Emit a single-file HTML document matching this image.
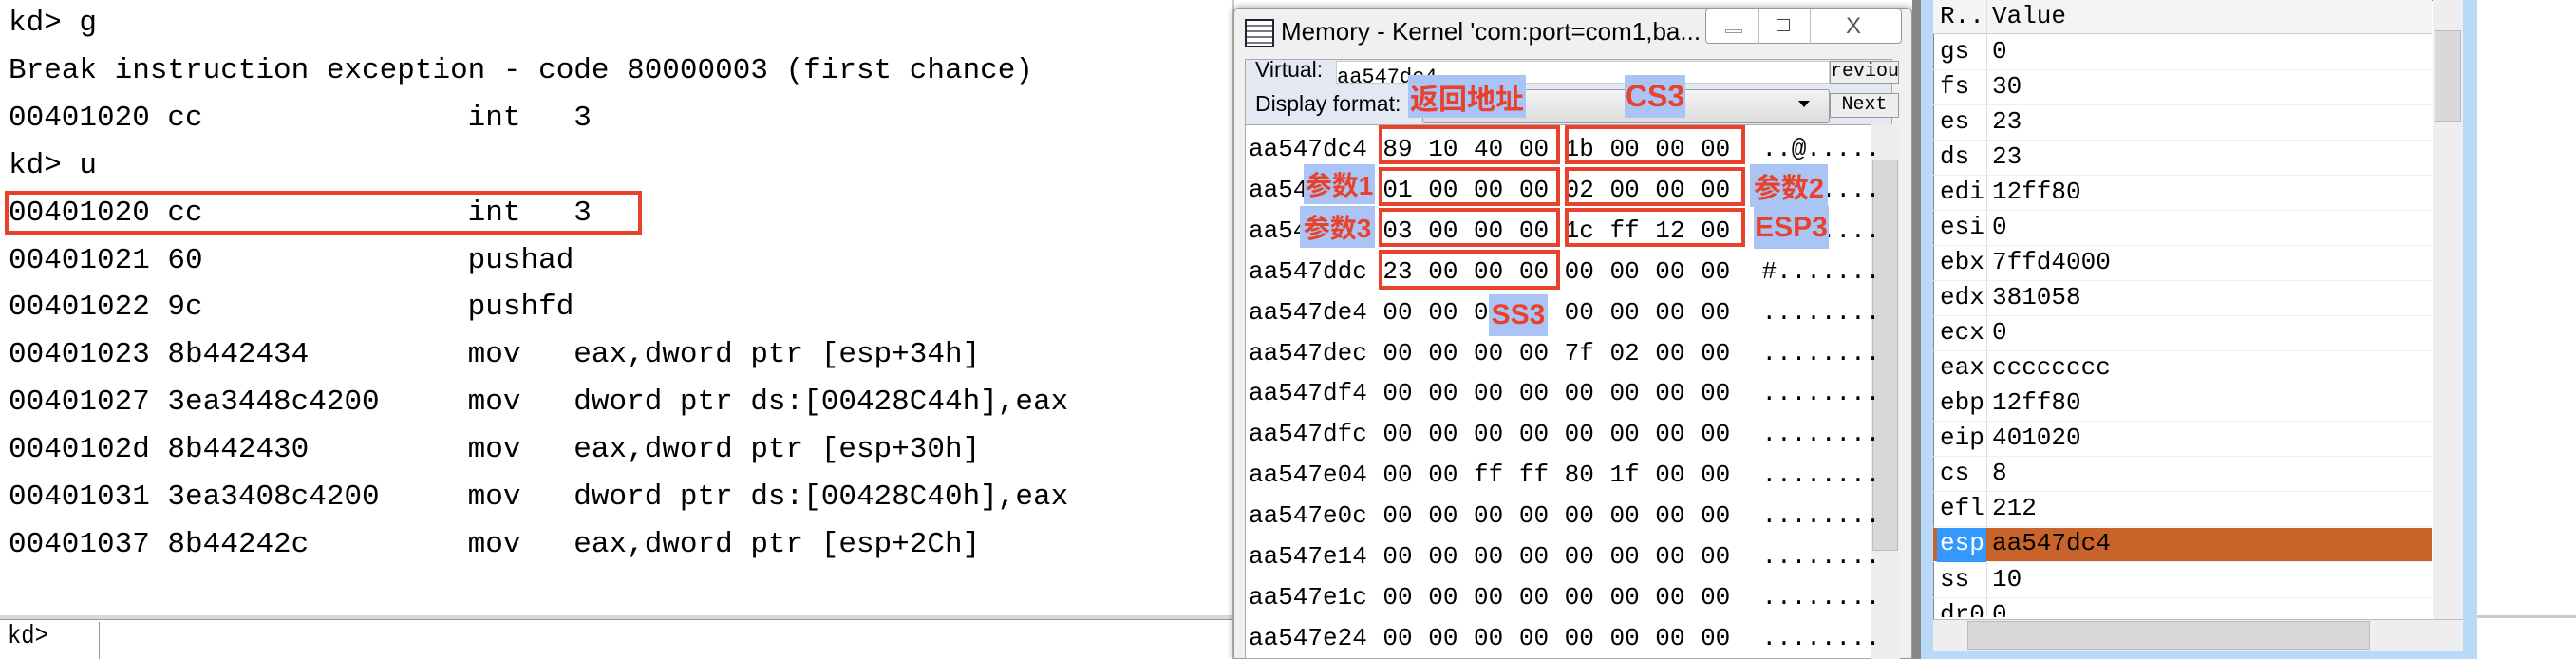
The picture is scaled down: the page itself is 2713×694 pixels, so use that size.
<!DOCTYPE html>
<html><head><meta charset="utf-8"><style>
*{margin:0;padding:0;box-sizing:border-box}
body{width:2713px;height:694px;position:relative;overflow:hidden;background:#fff;font-family:"Liberation Mono","Noto Sans CJK SC",monospace}
.a{position:absolute;white-space:pre}
.kd{font-size:31px;color:#000;line-height:49.9px}
.hx{font-size:26px;color:#000;font-family:"Liberation Mono",monospace}
.box{position:absolute;border:4px solid #e8412c}
.lbl{position:absolute;background:#a9c4f5;color:#e8412c;font-weight:bold;font-family:"Liberation Sans","Noto Sans CJK SC",sans-serif;font-size:28px;display:flex;align-items:center;justify-content:center;white-space:nowrap;overflow:visible}
.rg{position:absolute;font-size:26px;left:0;width:100%;height:37px;border-bottom:1px solid #eee}
</style></head><body>
<!-- left pane -->
<div class="a kd" style="left:9px;top:0">kd&gt; g
Break instruction exception - code 80000003 (first chance)
00401020 cc               int   3
kd&gt; u
00401020 cc               int   3
00401021 60               pushad
00401022 9c               pushfd
00401023 8b442434         mov   eax,dword ptr [esp+34h]
00401027 3ea3448c4200     mov   dword ptr ds:[00428C44h],eax
0040102d 8b442430         mov   eax,dword ptr [esp+30h]
00401031 3ea3408c4200     mov   dword ptr ds:[00428C40h],eax
00401037 8b44242c         mov   eax,dword ptr [esp+2Ch]</div>
<div class="box" style="left:5px;top:201px;width:671px;height:46px"></div>
<div class="a" style="left:0;top:648px;width:1300px;height:4px;background:#d8d8d8"></div>
<div class="a" style="left:0;top:652px;width:1300px;height:42px;background:#fff;border-top:1px solid #999"></div>
<div class="a" style="left:104px;top:655px;width:1px;height:39px;background:#999"></div>
<div class="a" style="left:8px;top:655px;font-size:28px;transform:scaleX(0.85);transform-origin:left">kd&gt;</div>
<div class="a" style="left:1297px;top:0;width:3px;height:694px;background:#ccc"></div>
<!-- memory window -->
<div class="a" style="left:1299px;top:8px;width:715px;height:686px;background:#f0f0f0;border:1px solid #999;border-radius:6px 6px 0 0;box-shadow:0 0 8px rgba(0,0,0,.4)"></div>
<div class="a" style="left:1311px;top:20px;width:31px;height:30px;border:2px solid #223;background:repeating-linear-gradient(#fff 0 4px,#778 4px 6px)"></div>
<div class="a" style="left:1349px;top:18px;font-family:'Liberation Sans',sans-serif;font-size:26px">Memory - Kernel 'com:port=com1,ba...</div>
<div class="a" style="left:1796px;top:9px;width:207px;height:37px;border:1px solid #999;border-radius:4px;background:#fff"></div>
<div class="a" style="left:1852px;top:9px;width:1px;height:37px;background:#bbb"></div>
<div class="a" style="left:1906px;top:9px;width:1px;height:37px;background:#bbb"></div>
<div class="a" style="left:1817px;top:31px;width:18px;height:4px;border:1px solid #999"></div>
<div class="a" style="left:1871px;top:20px;width:14px;height:13px;border:1px solid #444"></div>
<div class="a" style="left:1944px;top:14px;font-size:24px;color:#555;font-family:'Liberation Sans',sans-serif">X</div>
<div class="a" style="left:1311px;top:62px;width:682px;height:70px;background:#e4e8f2;border:1px solid #aaa"></div>
<div class="a" style="left:1322px;top:60px;font-family:'Liberation Sans',sans-serif;font-size:23px">Virtual:</div>
<div class="a" style="left:1407px;top:64px;width:520px;height:24px;background:#fff;border:1px solid #ccc;overflow:hidden;font-size:22px;line-height:34px">aa547dc4</div>
<div class="a" style="left:1322px;top:96px;font-family:'Liberation Sans',sans-serif;font-size:23px">Display format:</div>
<div class="a" style="left:1498px;top:94px;width:429px;height:36px;background:linear-gradient(#f4f4f4,#dcdcdc);border:1px solid #999;border-radius:3px"></div>
<div class="a" style="left:1894px;top:106px;width:0;height:0;border-left:6px solid transparent;border-right:6px solid transparent;border-top:7px solid #000"></div>
<div class="a" style="left:1927px;top:64px;width:73px;height:24px;border:1px solid #999;background:#eee;font-size:20px;overflow:hidden;line-height:22px">reviou</div>
<div class="a" style="left:1927px;top:98px;width:73px;height:26px;border:1px solid #999;background:#eee;font-size:20px;text-align:center;line-height:24px">Next</div>
<div class="a" style="left:1311px;top:131px;width:690px;height:563px;background:#fff;border:1px solid #aaa"></div>
<div class="a" style="left:1970px;top:131px;width:31px;height:563px;background:#eee"></div>
<div class="a" style="left:1972px;top:168px;width:27px;height:412px;background:#d8d8d8;border:1px solid #bbb"></div>
<div class="a hx" style="left:1315px;top:136px;line-height:42.9px;word-spacing:1px">aa547dc4 89 10 40 00 1b 00 00 00  ..@.....
aa547dcc 01 00 00 00 02 00 00 00  ........
aa547dd4 03 00 00 00 1c ff 12 00  ........
aa547ddc 23 00 00 00 00 00 00 00  #.......
aa547de4 00 00 00 00 00 00 00 00  ........
aa547dec 00 00 00 00 7f 02 00 00  ........
aa547df4 00 00 00 00 00 00 00 00  ........
aa547dfc 00 00 00 00 00 00 00 00  ........
aa547e04 00 00 ff ff 80 1f 00 00  ........
aa547e0c 00 00 00 00 00 00 00 00  ........
aa547e14 00 00 00 00 00 00 00 00  ........
aa547e1c 00 00 00 00 00 00 00 00  ........
aa547e24 00 00 00 00 00 00 00 00  ........</div>
<div class="box" style="left:1452px;top:132px;width:191px;height:41px"></div>
<div class="box" style="left:1452px;top:176px;width:191px;height:41px"></div>
<div class="box" style="left:1452px;top:219px;width:191px;height:41px"></div>
<div class="box" style="left:1452px;top:263px;width:191px;height:42px"></div>
<div class="box" style="left:1648px;top:132px;width:190px;height:41px"></div>
<div class="box" style="left:1648px;top:176px;width:190px;height:41px"></div>
<div class="box" style="left:1648px;top:219px;width:190px;height:41px"></div>
<div class="lbl" style="left:1483px;top:79px;width:124px;height:45px;font-size:30px">返回地址</div>
<div class="lbl" style="left:1711px;top:79px;width:64px;height:45px;font-size:32px">CS3</div>
<div class="lbl" style="left:1373px;top:173px;width:75px;height:42px">参数1</div>
<div class="lbl" style="left:1369px;top:217px;width:79px;height:44px">参数3</div>
<div class="lbl" style="left:1843px;top:173px;width:82px;height:45px;font-size:29px">参数2</div>
<div class="lbl" style="left:1847px;top:217px;width:79px;height:45px;font-size:30px">ESP3</div>
<div class="lbl" style="left:1568px;top:310px;width:62px;height:44px;font-size:30px">SS3</div>
<!-- gap -->
<div class="a" style="left:2014px;top:0;width:9px;height:694px;background:#888"></div>
<!-- registers -->
<div class="a" style="left:2023px;top:0;width:586px;height:694px;background:#b9d9f8"></div>
<div class="a" style="left:2036px;top:0;width:558px;height:686px;background:#fff;border:1px solid #888"></div>
<div class="a" style="left:2036px;top:0;width:525px;height:36px;background:#f4f4f4;border-bottom:1px solid #ccc"></div>
<div class="a" style="left:2092px;top:0;width:1px;height:650px;background:#ddd"></div>
<div class="a" style="left:2043px;top:2px;font-size:26px">R..</div>
<div class="a" style="left:2098px;top:2px;font-size:26px">Value</div>
<div class="a" style="left:2036px;top:37px;width:525px;height:613px;overflow:hidden">
<div class="rg" style="top:0"><span class="a" style="left:7px;top:2px">gs</span><span class="a" style="left:62px;top:2px">0</span></div>
<div class="rg" style="top:37px"><span class="a" style="left:7px;top:2px">fs</span><span class="a" style="left:62px;top:2px">30</span></div>
<div class="rg" style="top:74px"><span class="a" style="left:7px;top:2px">es</span><span class="a" style="left:62px;top:2px">23</span></div>
<div class="rg" style="top:111px"><span class="a" style="left:7px;top:2px">ds</span><span class="a" style="left:62px;top:2px">23</span></div>
<div class="rg" style="top:148px"><span class="a" style="left:7px;top:2px">edi</span><span class="a" style="left:62px;top:2px">12ff80</span></div>
<div class="rg" style="top:185px"><span class="a" style="left:7px;top:2px">esi</span><span class="a" style="left:62px;top:2px">0</span></div>
<div class="rg" style="top:222px"><span class="a" style="left:7px;top:2px">ebx</span><span class="a" style="left:62px;top:2px">7ffd4000</span></div>
<div class="rg" style="top:259px"><span class="a" style="left:7px;top:2px">edx</span><span class="a" style="left:62px;top:2px">381058</span></div>
<div class="rg" style="top:296px"><span class="a" style="left:7px;top:2px">ecx</span><span class="a" style="left:62px;top:2px">0</span></div>
<div class="rg" style="top:333px"><span class="a" style="left:7px;top:2px">eax</span><span class="a" style="left:62px;top:2px">cccccccc</span></div>
<div class="rg" style="top:370px"><span class="a" style="left:7px;top:2px">ebp</span><span class="a" style="left:62px;top:2px">12ff80</span></div>
<div class="rg" style="top:407px"><span class="a" style="left:7px;top:2px">eip</span><span class="a" style="left:62px;top:2px">401020</span></div>
<div class="rg" style="top:444px"><span class="a" style="left:7px;top:2px">cs</span><span class="a" style="left:62px;top:2px">8</span></div>
<div class="rg" style="top:481px"><span class="a" style="left:7px;top:2px">efl</span><span class="a" style="left:62px;top:2px">212</span></div>
<div class="rg" style="top:519px;height:36px;background:#c8642a"><span class="a" style="left:4px;top:0;width:52px;height:36px;background:#3399ff"></span><span class="a" style="left:7px;top:1px;color:#fff">esp</span><span class="a" style="left:62px;top:1px">aa547dc4</span></div>
<div class="rg" style="top:556px"><span class="a" style="left:7px;top:2px">ss</span><span class="a" style="left:62px;top:2px">10</span></div>
<div class="rg" style="top:593px"><span class="a" style="left:7px;top:2px">dr0</span><span class="a" style="left:62px;top:2px">0</span></div>
</div>
<div class="a" style="left:2562px;top:0;width:32px;height:652px;background:#eee"></div>
<div class="a" style="left:2564px;top:32px;width:28px;height:96px;background:#d8d8d8;border:1px solid #bbb"></div>
<div class="a" style="left:2036px;top:652px;width:558px;height:34px;background:#eee;border-top:1px solid #bbb"></div>
<div class="a" style="left:2072px;top:654px;width:424px;height:30px;background:#d8d8d8;border:1px solid #bbb"></div>
<div class="a" style="left:2609px;top:648px;width:104px;height:3px;background:#ccc"></div>
</body></html>
